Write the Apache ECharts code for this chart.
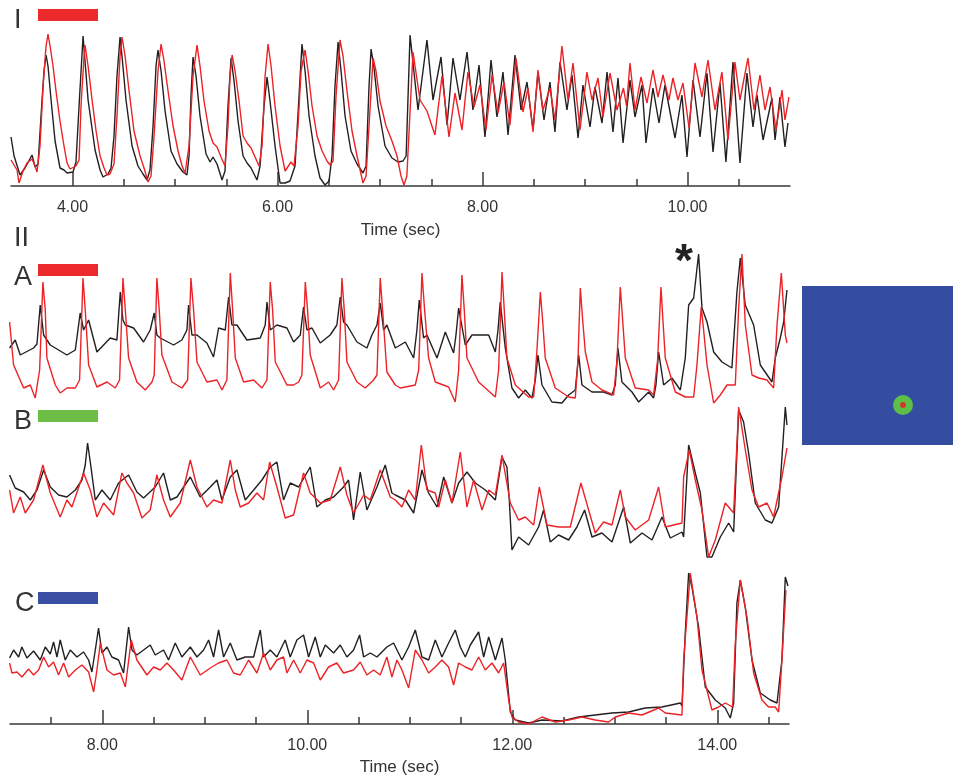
<!DOCTYPE html>
<html>
<head>
<meta charset="utf-8">
<script src="https://cdn.jsdelivr.net/npm/echarts@6/dist/echarts.min.js"></script>
<style>
html, body { margin: 0; padding: 0; background: #fff; }
#chart { width: 953px; height: 780px; }
</style>
</head>
<body>
<div id="chart"></div>
<script>
// Panel I traces: [time (s), signal (a.u.)]
const panelOneBlack = [[3.400,49],[3.430,30],[3.488,11],[3.537,18],[3.605,31],[3.635,19],[3.664,22],[3.693,70],[3.722,115],[3.742,131],[3.761,120],[3.791,86],[3.830,45],[3.878,18],[3.917,16],[3.947,13],[4.005,14],[4.034,24],[4.064,80],[4.103,150],[4.122,125],[4.152,86],[4.220,36],[4.269,16],[4.298,9],[4.347,12],[4.376,18],[4.405,50],[4.434,110],[4.464,149],[4.483,130],[4.522,86],[4.581,40],[4.639,20],[4.688,12],[4.727,6],[4.756,16],[4.786,60],[4.815,120],[4.834,136],[4.864,115],[4.903,75],[4.961,35],[5.020,22],[5.078,14],[5.117,11],[5.137,30],[5.156,90],[5.176,129],[5.205,110],[5.244,70],[5.303,32],[5.342,24],[5.371,29],[5.410,22],[5.459,6],[5.488,15],[5.517,80],[5.547,128],[5.576,105],[5.615,65],[5.664,30],[5.703,23],[5.742,18],[5.800,6],[5.830,20],[5.869,80],[5.898,109],[5.927,85],[5.976,40],[6.025,3],[6.074,3],[6.122,5],[6.171,20],[6.210,90],[6.239,142],[6.269,115],[6.308,70],[6.366,30],[6.415,8],[6.464,1],[6.503,5],[6.532,30],[6.561,100],[6.591,144],[6.620,115],[6.659,70],[6.717,35],[6.776,22],[6.834,13],[6.864,20],[6.893,100],[6.913,137],[6.942,118],[6.981,80],[7.049,40],[7.117,28],[7.176,24],[7.225,25],[7.255,30],[7.293,151],[7.371,76],[7.458,146],[7.517,86],[7.595,129],[7.654,61],[7.712,128],[7.780,86],[7.849,134],[7.907,76],[7.966,121],[8.024,49],[8.083,126],[8.141,69],[8.200,114],[8.249,51],[8.317,131],[8.376,76],[8.434,104],[8.493,56],[8.541,114],[8.600,66],[8.658,104],[8.707,54],[8.756,124],[8.824,76],[8.873,111],[8.932,48],[8.980,101],[9.049,59],[9.097,99],[9.166,63],[9.215,114],[9.273,54],[9.322,108],[9.371,43],[9.439,106],[9.488,69],[9.556,101],[9.595,43],[9.663,98],[9.722,63],[9.780,101],[9.878,48],[9.946,91],[9.995,29],[10.054,106],[10.122,49],[10.190,113],[10.249,34],[10.317,103],[10.375,24],[10.444,124],[10.512,23],[10.580,113],[10.639,59],[10.678,91],[10.737,46],[10.824,88],[10.854,46],[10.902,89],[10.951,39],[10.980,63]];
const panelOneRed = [[3.400,26],[3.459,16],[3.478,3],[3.517,15],[3.556,23],[3.605,27],[3.635,20],[3.654,14],[3.683,40],[3.713,100],[3.742,140],[3.761,152],[3.781,140],[3.810,120],[3.839,95],[3.878,65],[3.917,40],[3.947,23],[3.976,17],[3.995,16],[4.034,20],[4.064,26],[4.083,80],[4.113,130],[4.122,141],[4.152,120],[4.191,86],[4.230,55],[4.269,30],[4.308,18],[4.337,11],[4.366,12],[4.405,22],[4.434,70],[4.464,130],[4.483,149],[4.513,130],[4.552,95],[4.600,55],[4.659,30],[4.698,18],[4.737,4],[4.766,10],[4.796,50],[4.834,115],[4.864,142],[4.893,125],[4.932,95],[4.981,60],[5.030,35],[5.069,20],[5.098,13],[5.137,40],[5.176,110],[5.215,141],[5.244,120],[5.283,85],[5.332,55],[5.371,43],[5.410,39],[5.449,29],[5.488,20],[5.517,60],[5.537,110],[5.557,131],[5.586,115],[5.625,85],[5.664,50],[5.703,43],[5.742,38],[5.781,29],[5.820,20],[5.849,40],[5.879,110],[5.908,142],[5.937,120],[5.976,80],[6.025,40],[6.074,15],[6.093,13],[6.132,24],[6.161,20],[6.200,60],[6.230,115],[6.269,136],[6.298,115],[6.337,80],[6.386,50],[6.435,35],[6.483,25],[6.513,21],[6.542,25],[6.571,90],[6.610,146],[6.639,130],[6.678,95],[6.727,55],[6.776,30],[6.834,3],[6.864,10],[6.893,60],[6.932,128],[6.961,115],[7.000,85],[7.059,60],[7.117,45],[7.166,30],[7.205,10],[7.234,1],[7.262,10],[7.322,134],[7.390,86],[7.458,75],[7.536,51],[7.605,110],[7.673,49],[7.732,93],[7.800,56],[7.858,114],[7.917,79],[7.975,101],[8.034,56],[8.093,111],[8.151,73],[8.210,104],[8.268,61],[8.327,128],[8.395,74],[8.444,98],[8.493,54],[8.541,116],[8.590,76],[8.658,98],[8.707,66],[8.775,140],[8.834,86],[8.883,123],[8.951,56],[9.019,114],[9.068,86],[9.127,108],[9.175,69],[9.244,113],[9.312,76],[9.375,98],[9.405,80],[9.439,123],[9.488,76],[9.546,109],[9.605,83],[9.663,116],[9.712,89],[9.761,111],[9.819,86],[9.858,108],[9.907,86],[9.956,103],[10.015,58],[10.073,123],[10.141,89],[10.200,126],[10.268,76],[10.336,114],[10.395,46],[10.463,124],[10.512,86],[10.590,128],[10.649,76],[10.707,111],[10.756,76],[10.805,99],[10.863,56],[10.922,96],[10.951,66],[10.990,89]];

// Panel II, trace A
const traceABlack = [[7.096,62],[7.151,70],[7.200,55],[7.330,62],[7.363,66],[7.395,105],[7.428,75],[7.493,65],[7.655,55],[7.737,60],[7.785,97],[7.818,80],[7.867,90],[7.948,58],[8.078,72],[8.143,70],[8.176,118],[8.202,90],[8.225,85],[8.306,82],[8.403,68],[8.468,80],[8.507,97],[8.533,75],[8.566,72],[8.696,65],[8.777,70],[8.826,80],[8.842,105],[8.875,75],[8.924,75],[9.021,67],[9.086,53],[9.135,82],[9.200,80],[9.233,113],[9.265,85],[9.314,85],[9.411,70],[9.542,72],[9.590,85],[9.607,108],[9.639,80],[9.704,85],[9.802,82],[9.867,68],[9.932,75],[9.964,103],[9.997,80],[10.046,82],[10.127,67],[10.224,75],[10.289,85],[10.322,113],[10.354,88],[10.387,85],[10.485,68],[10.582,62],[10.631,75],[10.680,85],[10.712,107],[10.745,80],[10.777,85],[10.859,62],[10.957,68],[11.038,52],[11.070,80],[11.093,110],[11.135,72],[11.168,75],[11.266,52],[11.347,78],[11.428,57],[11.451,75],[11.477,102],[11.542,65],[11.607,75],[11.688,75],[11.770,75],[11.835,58],[11.861,80],[11.883,108],[11.932,62],[11.997,22],[12.062,12],[12.127,20],[12.192,12],[12.225,30],[12.251,55],[12.290,25],[12.387,8],[12.485,7],[12.550,15],[12.615,20],[12.648,55],[12.680,25],[12.778,18],[12.891,18],[12.973,15],[13.005,25],[13.031,62],[13.070,28],[13.168,18],[13.233,8],[13.331,18],[13.379,12],[13.402,25],[13.428,58],[13.477,25],[13.558,32],[13.640,20],[13.688,52],[13.721,105],[13.770,112],[13.818,156],[13.851,102],[13.900,88],[13.965,58],[14.046,48],[14.143,42],[14.192,118],[14.225,152],[14.273,105],[14.355,85],[14.420,45],[14.534,28],[14.566,52],[14.615,72],[14.648,88],[14.680,120]];
const traceARed = [[7.096,88],[7.135,45],[7.233,22],[7.298,25],[7.346,12],[7.389,40],[7.421,128],[7.444,100],[7.460,52],[7.542,25],[7.590,17],[7.655,22],[7.737,22],[7.779,30],[7.812,132],[7.834,100],[7.867,45],[7.948,23],[8.046,28],[8.127,22],[8.169,30],[8.202,132],[8.225,100],[8.257,52],[8.338,28],[8.420,20],[8.485,28],[8.507,35],[8.533,132],[8.556,100],[8.582,55],[8.680,28],[8.777,22],[8.833,30],[8.865,132],[8.891,100],[8.924,48],[9.021,28],[9.119,30],[9.168,20],[9.216,30],[9.249,137],[9.272,100],[9.298,52],[9.379,28],[9.477,30],[9.558,22],[9.607,30],[9.639,128],[9.662,100],[9.688,48],[9.802,25],[9.867,25],[9.916,28],[9.948,35],[9.981,128],[10.003,100],[10.029,55],[10.127,22],[10.208,28],[10.257,20],[10.306,30],[10.338,132],[10.361,100],[10.387,48],[10.485,28],[10.566,22],[10.647,30],[10.680,35],[10.712,132],[10.735,100],[10.777,38],[10.859,25],[10.908,22],[11.054,25],[11.087,40],[11.119,137],[11.145,100],[11.184,52],[11.249,28],[11.379,23],[11.444,8],[11.477,40],[11.509,135],[11.532,100],[11.558,52],[11.672,28],[11.835,13],[11.867,40],[11.900,138],[11.922,100],[11.948,52],[12.030,25],[12.160,13],[12.209,13],[12.241,60],[12.274,118],[12.296,90],[12.322,52],[12.420,22],[12.550,13],[12.615,12],[12.641,50],[12.664,122],[12.687,90],[12.713,58],[12.778,28],[12.875,20],[12.989,15],[13.022,50],[13.054,123],[13.077,90],[13.103,52],[13.200,22],[13.331,20],[13.379,15],[13.418,50],[13.451,123],[13.470,90],[13.493,52],[13.591,18],[13.688,13],[13.770,13],[13.802,45],[13.844,103],[13.867,80],[13.900,45],[13.965,7],[14.030,15],[14.095,25],[14.176,25],[14.209,102],[14.241,156],[14.274,85],[14.339,35],[14.404,32],[14.485,30],[14.550,22],[14.583,85],[14.625,137],[14.664,75],[14.680,67]];

// Panel II, trace B
const traceBBlack = [[7.096,90],[7.151,77],[7.233,73],[7.298,65],[7.363,75],[7.428,95],[7.493,78],[7.574,70],[7.655,68],[7.737,75],[7.802,85],[7.834,100],[7.857,122],[7.890,98],[7.932,65],[7.997,75],[8.078,65],[8.159,82],[8.257,90],[8.338,73],[8.403,67],[8.517,78],[8.598,92],[8.664,65],[8.729,68],[8.859,88],[8.956,68],[9.054,78],[9.119,85],[9.168,65],[9.249,88],[9.314,95],[9.395,65],[9.477,75],[9.558,85],[9.639,98],[9.704,103],[9.769,65],[9.834,82],[9.916,78],[10.029,98],[10.094,58],[10.176,65],[10.257,68],[10.354,78],[10.403,85],[10.452,45],[10.517,93],[10.582,55],[10.680,78],[10.761,100],[10.826,72],[10.859,70],[10.957,65],[11.038,52],[11.119,95],[11.184,72],[11.266,58],[11.331,88],[11.412,62],[11.477,82],[11.558,93],[11.640,82],[11.737,75],[11.835,65],[11.900,108],[11.948,98],[11.971,65],[11.997,15],[12.062,28],[12.160,20],[12.257,38],[12.306,55],[12.371,23],[12.452,30],[12.550,25],[12.631,38],[12.706,55],[12.778,28],[12.875,32],[12.973,23],[13.087,58],[13.152,22],[13.266,32],[13.363,25],[13.461,48],[13.542,27],[13.656,33],[13.672,28],[13.721,120],[13.786,92],[13.835,72],[13.900,8],[13.948,8],[14.030,28],[14.111,42],[14.160,33],[14.209,155],[14.257,143],[14.306,112],[14.371,62],[14.469,45],[14.534,42],[14.599,58],[14.664,158],[14.680,140]];
const traceBRed = [[7.096,75],[7.135,52],[7.200,68],[7.249,52],[7.330,65],[7.421,100],[7.493,72],[7.590,48],[7.655,65],[7.704,58],[7.818,92],[7.883,75],[7.948,48],[8.013,62],[8.111,50],[8.192,92],[8.241,82],[8.306,72],[8.387,47],[8.468,55],[8.533,90],[8.598,65],[8.664,48],[8.761,62],[8.859,105],[8.924,78],[9.021,58],[9.086,65],[9.168,62],[9.249,105],[9.298,75],[9.346,58],[9.428,62],[9.509,72],[9.574,65],[9.633,103],[9.704,78],[9.785,47],[9.867,50],[9.964,92],[10.029,72],[10.127,62],[10.224,65],[10.322,98],[10.387,70],[10.452,52],[10.550,70],[10.615,65],[10.712,95],[10.810,68],[10.859,65],[10.924,58],[10.989,75],[11.054,65],[11.113,120],[11.168,75],[11.249,72],[11.282,58],[11.347,85],[11.412,62],[11.493,113],[11.558,58],[11.623,85],[11.705,55],[11.770,75],[11.835,70],[11.900,110],[11.981,62],[12.062,45],[12.127,48],[12.209,40],[12.264,78],[12.339,40],[12.452,38],[12.566,38],[12.670,82],[12.745,55],[12.810,32],[12.891,43],[12.973,40],[13.054,75],[13.103,48],[13.200,35],[13.331,45],[13.428,78],[13.493,38],[13.656,42],[13.672,88],[13.727,115],[13.786,85],[13.851,55],[13.916,8],[13.981,25],[14.078,62],[14.160,52],[14.209,158],[14.274,115],[14.339,75],[14.404,58],[14.485,62],[14.550,48],[14.631,88],[14.680,117]];

// Panel II, trace C
const traceCBlack = [[7.096,66],[7.135,74],[7.184,67],[7.216,77],[7.265,66],[7.330,73],[7.395,64],[7.444,77],[7.493,70],[7.525,82],[7.558,67],[7.590,84],[7.639,64],[7.688,74],[7.753,67],[7.818,72],[7.867,64],[7.899,52],[7.932,74],[7.964,96],[7.997,71],[8.046,77],[8.094,67],[8.159,64],[8.208,51],[8.257,97],[8.290,74],[8.338,69],[8.403,74],[8.468,79],[8.517,69],[8.598,74],[8.647,64],[8.712,81],[8.777,67],[8.859,77],[8.924,67],[8.989,74],[9.038,84],[9.086,67],[9.135,94],[9.184,67],[9.249,81],[9.314,64],[9.395,67],[9.477,67],[9.542,94],[9.574,67],[9.639,74],[9.704,67],[9.785,84],[9.834,67],[9.899,84],[9.964,89],[10.013,67],[10.078,87],[10.127,67],[10.176,79],[10.257,71],[10.322,79],[10.387,67],[10.452,74],[10.511,89],[10.550,67],[10.615,71],[10.680,67],[10.777,77],[10.842,81],[10.924,64],[10.989,77],[11.054,94],[11.119,67],[11.184,64],[11.249,84],[11.314,67],[11.379,81],[11.444,94],[11.493,77],[11.542,67],[11.591,79],[11.672,92],[11.721,67],[11.770,87],[11.835,64],[11.900,86],[11.932,64],[11.981,12],[12.030,4],[12.160,1],[12.290,4],[12.485,3],[12.648,7],[12.810,9],[12.973,11],[13.135,12],[13.298,16],[13.461,17],[13.640,21],[13.656,18],[13.688,91],[13.721,151],[13.753,137],[13.818,97],[13.883,37],[13.981,24],[14.078,16],[14.127,6],[14.160,21],[14.192,121],[14.225,144],[14.273,117],[14.339,64],[14.420,31],[14.517,24],[14.583,21],[14.631,64],[14.664,147],[14.690,138]];
const traceCRed = [[7.096,61],[7.119,51],[7.168,52],[7.216,47],[7.281,55],[7.330,49],[7.379,54],[7.428,67],[7.477,57],[7.525,62],[7.574,49],[7.623,61],[7.672,47],[7.737,54],[7.802,59],[7.867,52],[7.916,32],[7.948,54],[7.981,81],[8.046,54],[8.111,49],[8.176,51],[8.225,37],[8.283,84],[8.338,64],[8.436,49],[8.501,57],[8.566,54],[8.631,61],[8.696,54],[8.777,44],[8.859,67],[8.956,49],[9.054,56],[9.135,61],[9.216,64],[9.281,51],[9.346,49],[9.428,64],[9.509,51],[9.574,71],[9.639,54],[9.704,64],[9.769,67],[9.802,51],[9.867,64],[9.932,51],[9.997,64],[10.062,61],[10.127,44],[10.208,57],[10.289,61],[10.354,51],[10.452,54],[10.517,62],[10.582,49],[10.647,54],[10.712,49],[10.777,67],[10.826,47],[10.875,64],[10.924,54],[10.989,36],[11.054,74],[11.119,64],[11.184,51],[11.249,57],[11.314,64],[11.379,57],[11.428,39],[11.477,61],[11.542,57],[11.607,54],[11.672,67],[11.737,54],[11.802,61],[11.867,51],[11.916,61],[11.965,24],[11.997,7],[12.062,2],[12.160,0],[12.290,7],[12.420,2],[12.550,4],[12.680,7],[12.810,4],[12.940,2],[13.005,7],[13.135,11],[13.266,9],[13.428,16],[13.493,11],[13.656,9],[13.672,64],[13.737,151],[13.802,107],[13.851,54],[13.948,14],[14.013,17],[14.078,21],[14.150,17],[14.176,81],[14.225,144],[14.290,107],[14.355,51],[14.436,24],[14.501,17],[14.566,17],[14.599,12],[14.631,64],[14.670,134]];

// Axis ticks and labels (seconds)
const panelOneRange = [3.40, 11.00];
const panelOneTicks = [4, 4.5, 5, 5.5, 6, 6.5, 7, 7.5, 8, 8.5, 9, 9.5, 10, 10.5];
const panelOneLabels = [4, 6, 8, 10];
const panelTwoRange = [7.10, 14.70];
const panelTwoTicks = [7.5, 8, 8.5, 9, 9.5, 10, 10.5, 11, 11.5, 12, 12.5, 13, 13.5, 14, 14.5];
const panelTwoLabels = [8, 10, 12, 14];

const FONT = '"Liberation Sans", Arial, sans-serif';
const TEXT = '#333333';
const AXIS = '#3a3a3a';
const BLACK = '#231f20';
const RED = '#ed2226';

// Visible time axis of a panel, plus an overlay axis carrying the long ticks.
function timeAxes(gridIndex, range, ticks, labels, nameGap) {
    const tickStyle = { color: AXIS, width: 1.5 };
    return [
        {
            type: 'value', gridIndex, position: 'bottom', min: range[0], max: range[1],
            name: 'Time (sec)', nameLocation: 'middle', nameGap,
            nameTextStyle: { fontFamily: FONT, fontSize: 17, color: TEXT },
            axisLine: { show: true, onZero: false, lineStyle: { color: AXIS, width: 1.5 } },
            axisTick: { show: true, inside: true, length: 7, customValues: ticks, lineStyle: tickStyle },
            axisLabel: { show: true, customValues: labels, margin: 14, fontFamily: FONT, fontSize: 16, color: TEXT, formatter: v => v.toFixed(2) },
            splitLine: { show: false }
        },
        {
            type: 'value', gridIndex, position: 'bottom', min: range[0], max: range[1],
            axisLine: { show: false },
            axisTick: { show: true, inside: true, length: 14, customValues: labels, lineStyle: tickStyle },
            axisLabel: { show: false },
            splitLine: { show: false }
        }
    ];
}

// Hidden axis used by the stacked traces of panel II.
function hiddenAxis(gridIndex, min, max) {
    return { type: 'value', gridIndex, min, max, show: false, splitLine: { show: false } };
}

// One recorded trace.
function trace(data, color, xAxisIndex, yAxisIndex) {
    return {
        type: 'line', data, xAxisIndex, yAxisIndex,
        symbol: 'none', showSymbol: false, silent: true,
        lineStyle: { color, width: 1.4 }, itemStyle: { color }
    };
}

// Panel letter and its coloured bar.
function tag(text, x, y, barY, barColor) {
    const items = [{
        type: 'text', x, y,
        style: { text, fontFamily: FONT, fontSize: 27, fill: TEXT, textVerticalAlign: 'middle' }
    }];
    if (barColor) {
        items.push({ type: 'rect', shape: { x: 38, y: barY, width: 60, height: 12 }, style: { fill: barColor } });
    }
    return items;
}

const chart = echarts.init(document.getElementById('chart'));
chart.setOption({
    animation: false,
    backgroundColor: '#ffffff',
    grid: [
        { left: 11, top: 30, width: 779, height: 156 },
        { left: 10, top: 245, width: 779, height: 165 },
        { left: 10, top: 400, width: 779, height: 165 },
        { left: 10, top: 565, width: 779, height: 159 }
    ],
    xAxis: [
        ...timeAxes(0, panelOneRange, panelOneTicks, panelOneLabels, 36),
        hiddenAxis(1, panelTwoRange[0], panelTwoRange[1]),
        hiddenAxis(2, panelTwoRange[0], panelTwoRange[1]),
        ...timeAxes(3, panelTwoRange, panelTwoTicks, panelTwoLabels, 35)
    ],
    yAxis: [
        hiddenAxis(0, 0, 156),
        hiddenAxis(1, 0, 165),
        hiddenAxis(2, 0, 165),
        hiddenAxis(3, 0, 159)
    ],
    series: [
        trace(panelOneBlack, BLACK, 0, 0),
        trace(panelOneRed, RED, 0, 0),
        trace(traceABlack, BLACK, 2, 1),
        trace(traceARed, RED, 2, 1),
        trace(traceBBlack, BLACK, 3, 2),
        trace(traceBRed, RED, 3, 2),
        trace(traceCBlack, BLACK, 4, 3),
        trace(traceCRed, RED, 4, 3)
    ],
    graphic: [
        ...tag('I', 14, 21, 9, '#ec2a2c'),
        ...tag('II', 14, 239, 0, null),
        ...tag('A', 14, 278, 264, '#ec2a2c'),
        ...tag('B', 14, 422, 410, '#6dbe45'),
        ...tag('C', 15, 604, 592, '#3b4fa2'),
        {
            type: 'text', x: 684, y: 263,
            style: { text: '*', fontFamily: FONT, fontSize: 46, fontWeight: 'bold', fill: '#222', textAlign: 'center', textVerticalAlign: 'middle' }
        },
        { type: 'rect', shape: { x: 802, y: 286, width: 151, height: 159 }, style: { fill: '#354da0' } },
        { type: 'circle', shape: { cx: 903, cy: 405, r: 10 }, style: { fill: '#5cbf48' } },
        { type: 'circle', shape: { cx: 903, cy: 405, r: 3 }, style: { fill: '#cf3b2c' } }
    ]
});
</script>
</body>
</html>
